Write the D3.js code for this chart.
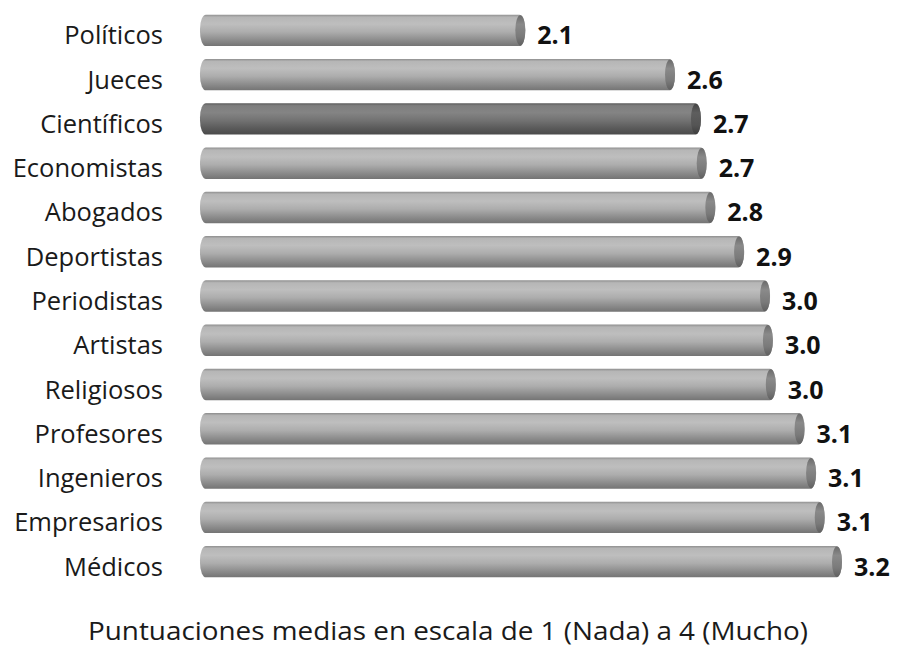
<!DOCTYPE html>
<html><head><meta charset="utf-8">
<script src="https://cdn.jsdelivr.net/npm/d3@7/dist/d3.min.js"></script>
<style>body{margin:0;background:#fff}svg{display:block}</style>
</head><body><svg id="c" width="897" height="646"></svg>
<script>
const categories = ["Políticos","Jueces","Científicos","Economistas","Abogados","Deportistas","Periodistas","Artistas","Religiosos","Profesores","Ingenieros","Empresarios","Médicos"];
const values = [2.10,2.62,2.71,2.73,2.76,2.86,2.95,2.96,2.97,3.07,3.11,3.14,3.20];
const highlight = ["Científicos"];
const caption = "Puntuaciones medias en escala de 1 (Nada) a 4 (Mucho)";

const FONT = "'Open Sans', 'Noto Sans', sans-serif";
const svg = d3.select("#c");
const x = d3.scaleLinear().domain([0.97, 3.2]).range([200, 842]);
const y = d3.scaleBand().domain(categories).range([8, 584]).paddingInner(0.29).paddingOuter(0.15);

const defs = svg.append("defs");
function grad(id, stops){
  const g = defs.append("linearGradient").attr("id", id).attr("x1",0).attr("y1",0).attr("x2",0).attr("y2",1);
  stops.forEach(s=>g.append("stop").attr("offset",s[0]).attr("stop-color",s[1]));
}
grad("gBar", [[0,"#8e8e8e"],[0.08,"#b6b6b6"],[0.3,"#bebebe"],[0.55,"#adadad"],[0.8,"#8d8d8d"],[1,"#747474"]]);
grad("gBarD", [[0,"#5a5a5a"],[0.08,"#7e7e7e"],[0.3,"#848484"],[0.55,"#727272"],[0.8,"#5a5a5a"],[1,"#4a4a4a"]]);
grad("gCap", [[0,"#6a6a6a"],[0.3,"#8a8a8a"],[0.7,"#7a7a7a"],[1,"#606060"]]);
grad("gCapD", [[0,"#444"],[0.3,"#5e5e5e"],[0.7,"#555"],[1,"#3e3e3e"]]);

const h = y.bandwidth();
const g = svg.append("g").selectAll("g").data(categories).join("g")
  .attr("transform", d=>`translate(0,${y(d)})`);
const isH = d => highlight.includes(d);
g.append("rect").attr("x", x(0.97)).attr("y",0)
  .attr("width", (d,i)=>x(values[i])-x(0.97)).attr("height", h)
  .attr("rx", 6).attr("ry", h/2.2)
  .attr("fill", d=> isH(d) ? "url(#gBarD)" : "url(#gBar)");
g.append("ellipse").attr("cx",(d,i)=>x(values[i])-5).attr("cy",h/2)
  .attr("rx",5).attr("ry",h/2-0.5)
  .attr("fill", d=> isH(d) ? "url(#gCapD)" : "url(#gCap)");
g.append("text").attr("x",(d,i)=>x(values[i])+12).attr("y",h/2+14)
  .attr("font-family",FONT).attr("font-weight","bold")
  .attr("font-size",25).attr("fill","#111")
  .text((d,i)=>d3.format(".1f")(values[i]));

const yAxis = d3.axisLeft(y).tickSize(0).tickPadding(0);
const ax = svg.append("g").attr("transform","translate(163,0)").call(yAxis);
ax.select(".domain").remove();
ax.selectAll("text").attr("dy",null).attr("y",14).attr("font-family",FONT).attr("font-size",25.5).attr("fill","#1a1a1a");

svg.append("text").attr("x",448).attr("y",640).attr("text-anchor","middle")
  .attr("font-family",FONT).attr("font-size",25).attr("fill","#1a1a1a")
  .attr("textLength",720).attr("lengthAdjust","spacingAndGlyphs")
  .text(caption);
</script></body></html>
